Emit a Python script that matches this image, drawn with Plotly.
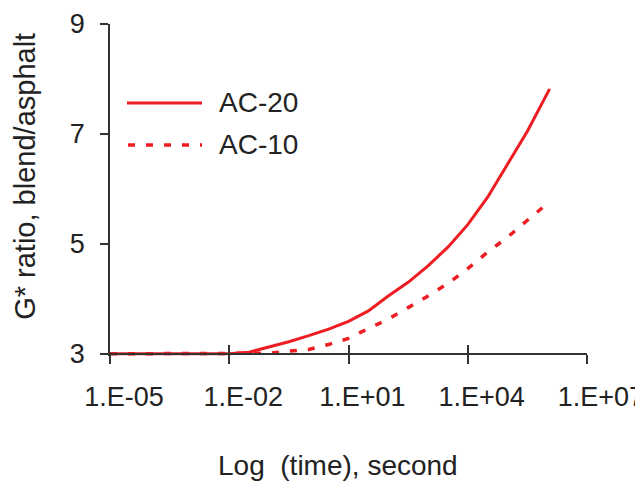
import plotly.graph_objects as go

# ---- data ----
time_ac20 = [1e-5, 1e-4, 1e-3, 1e-2, 10**-1.5, 1e-1, 10**-0.5, 1e0, 10**0.5, 1e1, 10**1.5,
             1e2, 10**2.5, 1e3, 10**3.5, 1e4, 10**4.5, 1e5, 10**5.5, 10**6.06]
ratio_ac20 = [3.0, 3.0, 3.0, 3.0, 3.03, 3.12, 3.22, 3.33, 3.45, 3.59, 3.78,
              4.05, 4.3, 4.6, 4.94, 5.35, 5.85, 6.45, 7.05, 7.82]

time_ac10 = [1e-5, 1e-4, 1e-3, 1e-2, 1e-1, 10**-0.5, 1e0, 10**0.5, 1e1, 10**1.5, 1e2,
             10**2.5, 1e3, 10**3.5, 1e4, 10**4.5, 1e5, 10**5.5, 1e6]
ratio_ac10 = [3.0, 3.0, 3.0, 3.0, 3.01, 3.05, 3.08, 3.17, 3.28, 3.46, 3.63,
              3.84, 4.05, 4.28, 4.55, 4.85, 5.12, 5.43, 5.73]

x_tickvals = [1e-5, 1e-2, 1e1, 1e4, 1e7]
x_ticklabels = ["1.E-05", "1.E-02", "1.E+01", "1.E+04", "1.E+07"]
y_tickvals = [3, 5, 7, 9]
series_names = ["AC-20", "AC-10"]

RED = "#EE1D23"
FONT = "Arial, Liberation Sans, Helvetica, sans-serif"
TXT = "#222222"
FS = 27

fig = go.Figure()
fig.add_trace(go.Scatter(x=time_ac20, y=ratio_ac20, mode="lines", name=series_names[0],
                         line=dict(color=RED, width=3), showlegend=False))
fig.add_trace(go.Scatter(x=time_ac10, y=ratio_ac10, mode="lines", name=series_names[1],
                         line=dict(color=RED, width=3.5, dash="7px,11px"), showlegend=False))
# invisible trace to activate the overlay axis carrying the inside ticks
fig.add_trace(go.Scatter(x=[x_tickvals[0]], y=[y_tickvals[0]], xaxis="x2", mode="markers",
                         marker=dict(opacity=0), hoverinfo="skip", showlegend=False))

ymin = 2.96
pos = (3 - ymin) / (9 - ymin)
pad = "\u00a0\u00a0\u00a0\u2009"

# the page body has an 8px default margin, so figure coords = page coords - 8
fig.update_layout(
    width=643, height=481,
    margin=dict(l=102, r=64, t=16, b=133, autoexpand=False),
    paper_bgcolor="white", plot_bgcolor="white",
    font=dict(family=FONT, size=FS, color=TXT),
    xaxis=dict(type="log", range=[-5, 7], showgrid=False, zeroline=False, automargin=False,
               showline=True, linecolor="#333", linewidth=1.5,
               ticks="outside", ticklen=9, tickwidth=1.5, tickcolor="#333",
               tickvals=x_tickvals, ticktext=[pad + t for t in x_ticklabels],
               tickfont=dict(size=FS, color=TXT), ticklabeloverflow="allow",
               ticklabelstandoff=10,
               anchor="free", position=pos),
    xaxis2=dict(type="log", range=[-5, 7], overlaying="x", showgrid=False, zeroline=False,
                automargin=False,
                showline=False, ticks="inside", ticklen=9, tickwidth=1.5, tickcolor="#333",
                tickvals=x_tickvals, showticklabels=False,
                anchor="free", position=pos, side="bottom"),
    yaxis=dict(range=[ymin, 9], showgrid=False, zeroline=False, automargin=False,
               showline=True, linecolor="#333", linewidth=1.5,
               ticks="outside", ticklen=8, tickwidth=1.5, tickcolor="#333",
               tickvals=y_tickvals, tickfont=dict(size=FS, color=TXT),
               ticklabelstandoff=10),
    showlegend=False,
)

# axis titles
fig.add_annotation(text="Log\u00a0\u00a0(time), second", xref="paper", yref="paper",
                   x=0.477, y=-0.33, xanchor="center", yanchor="middle",
                   showarrow=False, font=dict(size=28, color=TXT))
fig.add_annotation(text="G* ratio, blend/asphalt", xref="paper", yref="paper",
                   x=-0.178, y=0.54, xanchor="center", yanchor="middle", textangle=-90,
                   showarrow=False, font=dict(size=29, color=TXT))

# legend (manual, long line samples as in the reference)
def py(p):
    return (356.2 - p) / 332.2

fig.add_shape(type="line", xref="paper", yref="paper", x0=(127 - 110) / 477, x1=(202 - 110) / 477,
              y0=py(103), y1=py(103), line=dict(color=RED, width=3))
fig.add_shape(type="line", xref="paper", yref="paper", x0=(128 - 110) / 477, x1=(202 - 110) / 477,
              y0=py(145), y1=py(145), line=dict(color=RED, width=3.5, dash="7px,11px"))
for name, yy in zip(series_names, [103, 145]):
    fig.add_annotation(text=name, xref="paper", yref="paper", x=(217 - 110) / 477, y=py(yy),
                       xanchor="left", yanchor="middle", showarrow=False,
                       font=dict(size=28, color=TXT))

fig.write_html("out.html")
